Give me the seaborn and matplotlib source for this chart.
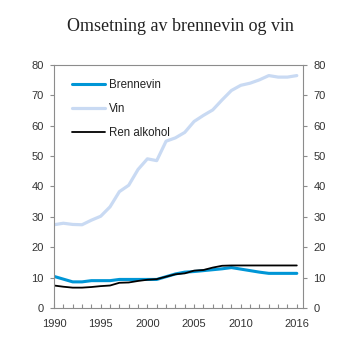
#!/usr/bin/env python3
"""
Omsetning av brennevin og vin: line chart, 1990-2016.
"""

import numpy as np
import pandas as pd
import matplotlib
matplotlib.use("Agg")
import matplotlib.pyplot as plt
import seaborn as sns

years = list(range(1990, 2017))

brennevin = [10.4, 9.5, 8.6, 8.6, 9.0, 9.0, 9.0, 9.4, 9.4, 9.4, 9.4, 9.4, 10.3, 11.2,
             11.8, 12.0, 12.3, 12.6, 12.9, 13.3, 12.8, 12.3, 11.8, 11.4, 11.4, 11.4, 11.4]
vin = [27.4, 27.9, 27.5, 27.4, 28.9, 30.2, 33.3, 38.3, 40.4, 45.6, 49.1, 48.5, 54.9, 56.0,
       57.8, 61.4, 63.4, 65.2, 68.5, 71.6, 73.3, 74.0, 75.1, 76.5, 76.0, 76.0, 76.5]
ren_alkohol = [7.4, 7.0, 6.7, 6.7, 6.9, 7.2, 7.4, 8.3, 8.4, 8.9, 9.3, 9.5, 10.3, 11.1,
               11.4, 12.3, 12.5, 13.3, 13.9, 14.0, 14.0, 14.0, 14.0, 14.0, 14.0, 14.0, 14.0]

series_names = ["Brennevin", "Vin", "Ren alkohol"]
series_colors = {"Brennevin": "#0096d6", "Vin": "#c9daf3", "Ren alkohol": "#000000"}
series_widths = {"Brennevin": 2.2, "Vin": 2.3, "Ren alkohol": 1.3}

x_ticks = [1990, 1995, 2000, 2005, 2010, 2016]
y_ticks = [0, 10, 20, 30, 40, 50, 60, 70, 80]

df = pd.DataFrame({"year": years * 3,
                   "value": brennevin + vin + ren_alkohol,
                   "series": np.repeat(series_names, len(years))})

sns.set_style("ticks")
plt.rcParams["font.family"] = ["Liberation Sans", "DejaVu Sans"]

fig = plt.figure(figsize=(3.53, 3.53), dpi=100)
ax = fig.add_axes([0.153, 0.1275, 0.705, 0.6885])

for name in series_names:
    sns.lineplot(data=df[df["series"] == name], x="year", y="value", ax=ax,
                 color=series_colors[name], linewidth=series_widths[name], label=name)

ax.set_xlim(1990, 2016.65)
ax.set_ylim(0, 80)
ax.set_xticks(x_ticks)
ax.set_xticks(years, minor=True)
ax.set_yticks(y_ticks)
ax.set_xlabel("")
ax.set_ylabel("")

for side in ["left", "right", "top", "bottom"]:
    ax.spines[side].set_visible(True)
    ax.spines[side].set_color("#8c8c8c")
    ax.spines[side].set_linewidth(0.8)

ax.tick_params(axis="y", which="both", left=True, right=True, labelleft=True, labelright=True,
               direction="out", length=3, width=0.8, color="#8c8c8c",
               labelsize=8, labelcolor="#333333", pad=4.5)
ax.tick_params(axis="x", which="both", direction="in", length=3, width=0.8, color="#8c8c8c",
               labelsize=8, labelcolor="#333333", pad=8)

leg = ax.legend(loc="upper left", bbox_to_anchor=(0.04, 0.975), frameon=False, fontsize=8.3,
                handlelength=2.9, handletextpad=0.3, labelspacing=1.05, borderaxespad=0.3)
for t in leg.get_texts():
    t.set_color("#222222")

fig.suptitle("Omsetning av brennevin og vin", x=0.51, y=0.95, fontsize=13,
             family=["Liberation Serif", "DejaVu Serif"], color="#222222")

fig.savefig("out.png", dpi=100)
